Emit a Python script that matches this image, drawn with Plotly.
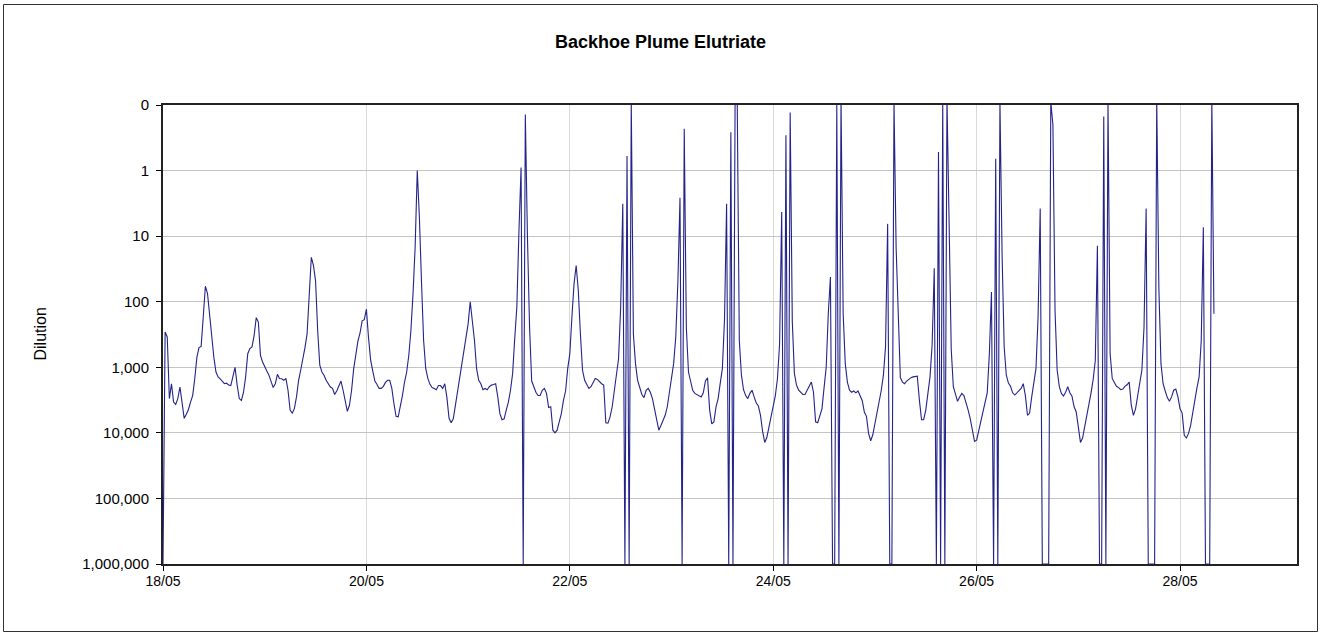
import pandas as pd
import plotly.graph_objects as go

# Half-hourly dilution values, one list per day (18/05 ... 28/05)
d18 = [1000000, 290, 345, 3000, 1780, 3400, 3700, 3000, 2000, 3400,
       6000, 5200, 4400, 3400, 2700, 1480, 700, 500, 480, 170,
       58, 75, 170, 390, 700, 1180, 1400, 1500, 1620, 1780,
       1750, 1870, 1900, 1400, 1000, 1870, 3000, 3200, 2400, 1400,
       620, 520, 490, 330, 175, 204, 660, 830]
d19 = [1000, 1140, 1320, 1660, 2040, 1780, 1280, 1480, 1500, 1580,
       1480, 2240, 4500, 5000, 4270, 2830, 1580, 1100, 760, 500,
       310, 95, 21, 28, 48, 275, 930, 1180, 1320, 1580,
       1780, 2000, 2100, 2600, 2300, 1870, 1620, 2240, 3400, 4700,
       3800, 2240, 1050, 620, 400, 300, 196, 188]
d20 = [130, 355, 780, 1140, 1620, 1830, 2100, 2100, 1950, 1700,
       1580, 1580, 2100, 3600, 5600, 5700, 4000, 2700, 1680, 1180,
       660, 275, 76, 14.7, 1.0, 5.1, 50, 390, 1050, 1480,
       1820, 2040, 2100, 2200, 1900, 1900, 2100, 1780, 2900, 6000,
       7000, 6100, 3800, 2400, 1320, 880, 540, 345]
d21 = [218, 100, 180, 390, 1050, 1580, 1780, 2200, 2100, 2200,
       1980, 1870, 1830, 1780, 2830, 5100, 6300, 6100, 4500, 3400,
       2240, 1250, 365, 120, 8.2, 0.9, 1000000, 0.14, 10, 245,
       1620, 1980, 2400, 2700, 2700, 2240, 2100, 2500, 4100, 4000,
       9100, 10000, 9100, 6800, 5100, 3200, 2300, 1050]
d22 = [620, 170, 53, 28, 67, 310, 1110, 1580, 1820, 2100,
       1980, 1680, 1480, 1530, 1680, 1780, 1870, 7000, 7100, 5700,
       4000, 2200, 1480, 740, 120, 3.2, 1000000, 0.6, 1000000, 0.09,
       310, 880, 1580, 2040, 2600, 2900, 2240, 2100, 2400, 3000,
       4400, 5700, 9100, 7700, 6600, 5400, 4000, 2450]
d23 = [1680, 880, 345, 50, 2.6, 1000000, 0.23, 250, 1180, 1740,
       2240, 2500, 2600, 2700, 2830, 2450, 1620, 1450, 4500, 7300,
       6800, 4000, 3000, 1740, 1050, 190, 3.2, 1000000, 0.26, 1000000,
       0.09, 0.08, 390, 1320, 2200, 2700, 3000, 2500, 2240, 2830,
       3500, 3900, 5400, 9600, 14000, 11700, 8200, 5600]
d24 = [4000, 2700, 1480, 440, 4.3, 1000000, 0.29, 1000000, 0.13, 200,
       1250, 1870, 2240, 2400, 2600, 2600, 2240, 1870, 1680, 2400,
       6800, 7000, 5400, 4300, 2040, 1000, 150, 42, 1000000, 1000000,
       0.1, 1000000, 0.08, 150, 880, 1680, 2240, 2400, 2300, 2450,
       2300, 2700, 3200, 4800, 5600, 10200, 13200, 10700]
d25 = [7300, 5400, 3400, 2240, 1320, 490, 6.5, 1000000, 1000000, 0.09,
       15, 230, 1440, 1680, 1780, 1620, 1520, 1440, 1400, 1370,
       1370, 3200, 6300, 6300, 4500, 2500, 1400, 450, 31, 1000000,
       0.52, 1000000, 0.09, 1000000, 0.08, 6, 520, 1980, 2700, 3300,
       2830, 2500, 2700, 3400, 4500, 6100, 9100, 13500]
d26 = [12900, 9100, 7000, 4800, 3400, 2450, 620, 71, 1000000, 0.66,
       1000000, 0.09, 18.6, 490, 1320, 1740, 1950, 2450, 2650, 2450,
       2240, 2100, 1780, 2700, 5400, 5000, 2830, 1680, 1050, 170,
       3.8, 1000000, 1000000, 1000000, 1000000, 0.09, 0.2, 135, 1100, 1950,
       2500, 2750, 2400, 1980, 2450, 2750, 4000, 4800]
d27 = [8600, 14000, 12000, 8300, 5700, 3900, 2450, 1530, 790, 14,
       1000000, 1000000, 0.15, 1000000, 0.09, 620, 1480, 1700, 1950, 2040,
       2200, 2150, 1950, 1850, 1680, 3800, 5400, 4300, 2700, 1980,
       1100, 245, 3.8, 1000000, 1000000, 1000000, 1000000, 0.08, 60, 880,
       1780, 2300, 2900, 3300, 2830, 2240, 2150, 2830]
d28 = [4300, 5000, 10900, 12000, 10200, 7700, 4800, 3400, 2040, 1400,
       390, 7.3, 1000000, 1000000, 1000000, 0.08, 152]

dilution = d18 + d19 + d20 + d21 + d22 + d23 + d24 + d25 + d26 + d27 + d28
times = pd.date_range("2009-05-18 00:00", periods=len(dilution), freq="30min")

y_tickvals = [0.1, 1, 10, 100, 1000, 10000, 100000, 1000000]
y_ticktext = ["0", "1", "10", "100", "1,000", "10,000", "100,000", "1,000,000"]
x_tickvals = ["2009-05-18", "2009-05-20", "2009-05-22", "2009-05-24", "2009-05-26", "2009-05-28"]
x_ticktext = ["18/05", "20/05", "22/05", "24/05", "26/05", "28/05"]

FONT = "Liberation Sans, Arial, sans-serif"

fig = go.Figure()
fig.add_trace(go.Scatter(
    x=times, y=dilution, mode="lines",
    line=dict(color="#23238a", width=1.1),
    showlegend=False, hoverinfo="x+y",
))

W, H = 1321, 635
L, R, T, B = 163, 24, 105, 71
pw, ph = W - L - R, H - T - B

def px_x(p):
    return (p - L) / pw

def px_y(p):
    return (H - B - p) / ph

fig.update_layout(
    width=W, height=H,
    margin=dict(l=L, r=R, t=T, b=B),
    paper_bgcolor="white", plot_bgcolor="white",
    font=dict(family=FONT, size=14, color="black"),
    title=dict(text="<b>Backhoe Plume Elutriate</b>", x=0.5, xref="container",
               xanchor="center", y=1 - 42 / H, yref="container", yanchor="middle",
               font=dict(family=FONT, size=18, color="black")),
    xaxis=dict(
        type="date",
        range=["2009-05-18 00:00", "2009-05-29 03:36"],
        tickvals=x_tickvals, ticktext=x_ticktext,
        showgrid=True, gridcolor="#d9d9d9", gridwidth=1,
        ticks="outside", ticklen=5, tickcolor="black", tickwidth=1,
        showline=True, linecolor="#222222", linewidth=2, mirror=True,
        zeroline=False, ticklabelstandoff=-2,
        tickfont=dict(family=FONT, size=14, color="black"),
    ),
    yaxis=dict(
        type="log", range=[6, -1],
        tickvals=y_tickvals, ticktext=y_ticktext,
        showgrid=True, gridcolor="#c4c4c4", gridwidth=1,
        ticks="outside", ticklen=5, tickcolor="black", tickwidth=1,
        showline=True, linecolor="#222222", linewidth=2, mirror=True,
        zeroline=False, ticklabelstandoff=4,
        tickfont=dict(family=FONT, size=15, color="black"),
    ),
    annotations=[dict(
        text="Dilution", xref="paper", yref="paper",
        x=px_x(40), y=0.5, xanchor="center", yanchor="middle",
        textangle=-90, showarrow=False,
        font=dict(family=FONT, size=16, color="black"),
    )],
    shapes=[dict(
        type="rect", xref="paper", yref="paper", layer="below",
        x0=px_x(3.5), x1=px_x(1317.5), y0=px_y(631.5), y1=px_y(4.5),
        line=dict(color="#333333", width=1), fillcolor="rgba(0,0,0,0)",
    )],
)

fig.write_html(
    "out.html",
    config={"displayModeBar": False},
    post_script="document.body.style.margin='0';document.body.style.padding='0';"
                "document.body.style.overflow='hidden';",
)
